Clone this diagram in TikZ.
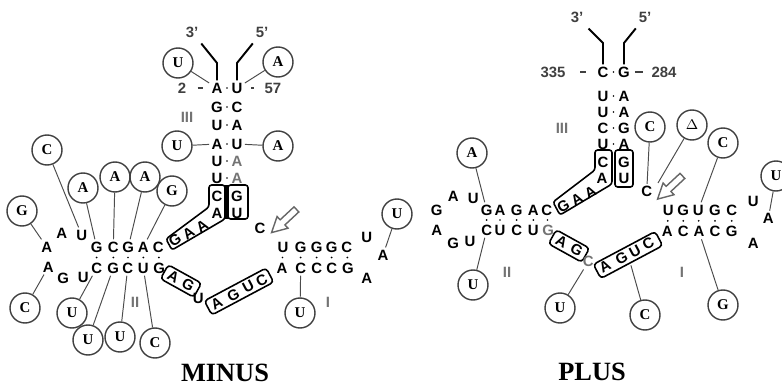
\documentclass[tikz,border=0pt]{standalone}
\usepackage{fontspec}
\setmainfont{Liberation Serif}
\setsansfont{Liberation Sans}
\usetikzlibrary{shapes.geometric, calc, positioning}
\tikzstyle{base} = [font=\sffamily\bfseries\fontsize{8.5}{9}\selectfont, inner sep=1.2pt]
\tikzstyle{greybase} = [base, text=black!55]
\tikzstyle{tilted} = [base, inner sep=0pt]
\tikzstyle{stemname} = [font=\sffamily\bfseries\fontsize{8.5}{9}\selectfont, text=black!55]
\tikzstyle{endname} = [font=\sffamily\bfseries\fontsize{8.5}{9}\selectfont, text=black!75]
\tikzstyle{circ} = [circle, draw=black!75, line width=0.8pt, minimum size=0.6cm, inner sep=0pt, font=\rmfamily\bfseries\fontsize{8.5}{9}\selectfont]
\tikzstyle{link} = [draw=black!70, line width=0.55pt]
\tikzstyle{tick} = [draw=black!75, line width=1.1pt]
\tikzstyle{strand} = [draw=black, line width=1.1pt]
\tikzstyle{boxline} = [draw=black, line width=0.9pt, rounded corners=1.5pt]
\tikzstyle{tag} = [draw=black, line width=0.9pt, rounded corners=2pt, minimum height=0.32cm, inner sep=0pt]
\tikzstyle{hollowarrow} = [draw=black!60, line width=0.8pt, line join=miter]
\tikzstyle{title} = [font=\rmfamily\bfseries\fontsize{15}{17}\selectfont]
\newcommand{\pairdot}[2]{\fill ($(#1)!0.5!(#2)$) circle (0.55pt);}
\newcommand{\openarrow}[1]{\draw [hollowarrow, shift={(#1)}, rotate=223] (-17,-3.5) -- (2,-3.5) -- (2,-8) -- (17,0) -- (2,8) -- (2,3.5) -- (-17,3.5) -- cycle;}

\begin{document}
\begin{tikzpicture}[x=0.02cm, y=-0.02cm]
    \useasboundingbox (0,0) rectangle (782,385);

    % ---------------- MINUS ----------------
    % stem III
    \node (m3p) [endname] at (192,32) {3'};
    \node (m5p) [endname] at (262,32) {5'};
    \node (mn2) [endname] at (182,88) {2};
    \node (mn57) [endname] at (273,88) {57};
    \node (ml1) [base] at (217,88) {A};  \node (mr1) [base] at (237,88) {U};
    \node (ml2) [base] at (217,107) {G}; \node (mr2) [base] at (237,107) {C};
    \node (ml3) [base] at (217,125) {U}; \node (mr3) [base] at (237,125) {A};
    \node (ml4) [base] at (217,144) {A}; \node (mr4) [base] at (237,144) {U};
    \node (ml5) [base] at (217,161) {U}; \node (mr5) [greybase] at (237,161) {A};
    \node (ml6) [base] at (217,178) {U}; \node (mr6) [greybase] at (237,178) {A};
    \node (ml7) [base] at (217,196) {C}; \node (mr7) [base] at (237,196) {G};
    \node (ml8) [base] at (217,213) {A}; \node (mr8) [base] at (237,213) {U};
    \node (m3name) [stemname] at (187,117) {III};
    \coordinate (m3k) at (217,63);
    \coordinate (m5k) at (237,63);
    \draw [strand] (m3p) -- (m3k) -- (ml1);
    \draw [strand] (m5p) -- (m5k) -- (mr1);
    \draw [tick, shorten <=3pt, shorten >=3.5pt] (mn2) -- (ml1);
    \draw [tick, shorten <=3.5pt, shorten >=2.5pt] (mr1) -- (mn57);
    \pairdot{ml1}{mr1} \pairdot{ml2}{mr2} \pairdot{ml3}{mr3}
    \pairdot{ml4}{mr4} \pairdot{ml5}{mr5} \pairdot{ml6}{mr6}

    % boxed C-A band and G-U box
    \node (mg1) [tilted, rotate=33] at (175,240) {G};
    \node (mg2) [tilted, rotate=33] at (188.5,233) {A};
    \node (mg3) [tilted, rotate=33] at (202,226) {A};
    \draw [boxline] (209,185) -- (225,185) -- (225,219) -- (172,250) -- (166,239) -- (209,207) -- cycle;
    \draw [boxline] (228,185) rectangle (248,219);
    \fill (224.5,185) rectangle (229,219);

    \node (mc) [base] at (260,228) {C};
    \coordinate (marr) at (284,221);
    \openarrow{marr}

    % stem I
    \node (mIt1) [base] at (283,247) {U};   \node (mIb1) [base] at (282,268) {A};
    \node (mIt2) [base] at (300.7,247) {G}; \node (mIb2) [base] at (300.7,268) {C};
    \node (mIt3) [base] at (316.7,247) {G}; \node (mIb3) [base] at (316.7,268) {C};
    \node (mIt4) [base] at (331.7,247) {G}; \node (mIb4) [base] at (331.7,268) {C};
    \node (mIt5) [base] at (346.7,247) {C}; \node (mIb5) [base] at (348,268) {G};
    \node (mIl1) [base] at (366.7,237) {U};
    \node (mIl2) [base] at (383,255) {A};
    \node (mIl3) [base] at (366.7,278) {A};
    \node (m1name) [stemname] at (328,302) {I};
    \pairdot{mIt1}{mIb1} \pairdot{mIt2}{mIb2} \pairdot{mIt3}{mIb3}
    \pairdot{mIt4}{mIb4} \pairdot{mIt5}{mIb5}

    % stem II
    \node (mIIt1) [base] at (96.7,247) {G};  \node (mIIb1) [base] at (96.7,268) {C};
    \node (mIIt2) [base] at (113.3,247) {C}; \node (mIIb2) [base] at (113.3,268) {G};
    \node (mIIt3) [base] at (128.3,247) {G}; \node (mIIb3) [base] at (127.7,268) {C};
    \node (mIIt4) [base] at (143.3,247) {A}; \node (mIIb4) [base] at (143.3,268) {U};
    \node (mIIt5) [base] at (158.3,247) {C}; \node (mIIb5) [base] at (159.3,268) {G};
    \node (mIIl1) [base] at (81.7,235) {U};
    \node (mIIl2) [base] at (61.7,233) {A};
    \node (mIIl3) [base] at (46.7,247) {A};
    \node (mIIl4) [base] at (48.3,267) {A};
    \node (mIIl5) [base] at (63.3,278) {G};
    \node (mIIl6) [base] at (83.3,277) {U};
    \node (m2name) [stemname] at (135,302) {II};
    \pairdot{mIIt1}{mIIb1} \pairdot{mIIt2}{mIIb2} \pairdot{mIIt3}{mIIb3}
    \pairdot{mIIt4}{mIIb4} \pairdot{mIIt5}{mIIb5}

    % lower strand with boxes
    \node (mbox1) [tag, rotate=-29, minimum width=0.76cm] at (181,281) {};
    \node (ma1) [tilted, rotate=-29] at (173.3,276.7) {A};
    \node (ma2) [tilted, rotate=-29] at (188.3,285) {G};
    \node (mu) [base] at (198.3,298.3) {U};
    \node (mbox2) [tag, rotate=28, minimum width=1.4cm] at (239,291.5) {};
    \node (mb1) [tilted, rotate=28] at (216.7,303.3) {A};
    \node (mb2) [tilted, rotate=28] at (233.3,295) {G};
    \node (mb3) [tilted, rotate=28] at (248.3,286.7) {U};
    \node (mb4) [tilted, rotate=28] at (261.7,280) {C};

    % circled variants
    \node (mcU1) [circ] at (178,63) {U};
    \node (mcA1) [circ] at (278,62) {A};
    \node (mcU2) [circ] at (177,146) {U};
    \node (mcA2) [circ] at (278,146) {A};
    \node (mcC1) [circ] at (47,150) {C};
    \node (mcG1) [circ] at (22,211) {G};
    \node (mcA3) [circ] at (83,188) {A};
    \node (mcA4) [circ] at (115,177) {A};
    \node (mcA5) [circ] at (145,177) {A};
    \node (mcG2) [circ] at (172,191) {G};
    \node (mcC2) [circ] at (25,308) {C};
    \node (mcU3) [circ] at (72,313) {U};
    \node (mcU4) [circ] at (88,340) {U};
    \node (mcU5) [circ] at (120,337) {U};
    \node (mcC3) [circ] at (155,343) {C};
    \node (mcU6) [circ] at (300,313) {U};
    \node (mcU7) [circ] at (397,214) {U};
    \draw [link] (mcU1) -- (ml1);
    \draw [link] (mcA1) -- (mr1);
    \draw [link] (mcU2) -- (ml4);
    \draw [link] (mcA2) -- (mr4);
    \draw [link] (mcC1) -- (mIIl1);
    \draw [link] (mcG1) -- (mIIl3);
    \draw [link] (mcA3) -- (mIIt1);
    \draw [link] (mcA4) -- (mIIt2);
    \draw [link] (mcA5) -- (mIIt3);
    \draw [link] (mcG2) -- (mIIt4);
    \draw [link] (mcC2) -- (mIIl4);
    \draw [link] (mcU3) -- (mIIb1);
    \draw [link] (mcU4) -- (mIIb2);
    \draw [link] (mcU5) -- (mIIb3);
    \draw [link] (mcC3) -- (mIIb4);
    \draw [link] (mcU6) -- (mIb2);
    \draw [link] (mcU7) -- (mIl2);

    \node (minus) [title] at (225,373) {MINUS};

    % ---------------- PLUS ----------------
    % stem III
    \node (p3p) [endname] at (577,17) {3'};
    \node (p5p) [endname] at (645,17) {5'};
    \node (pn335) [endname] at (553,72) {335};
    \node (pn284) [endname] at (664,72) {284};
    \node (pl1) [base] at (603,72) {C};  \node (pr1) [base] at (624,72) {G};
    \node (pl2) [base] at (603,96) {U};  \node (pr2) [base] at (624,96) {A};
    \node (pl3) [base] at (603,112) {U}; \node (pr3) [base] at (624,112) {A};
    \node (pl4) [base] at (603,128) {C}; \node (pr4) [base] at (624,128) {G};
    \node (pl5) [base] at (603,144) {U}; \node (pr5) [base] at (624,144) {A};
    \node (pl6) [base] at (603,162) {C}; \node (pr6) [base] at (624,162) {G};
    \node (pl7) [base] at (602,178) {A}; \node (pr7) [base] at (624,178) {U};
    \node (p3name) [stemname] at (562,128) {III};
    \coordinate (p3k) at (603,43);
    \coordinate (p5k) at (624,43);
    \draw [strand] (p3p) -- (p3k) -- (pl1);
    \draw [strand] (p5p) -- (p5k) -- (pr1);
    \draw [tick, shorten <=5pt, shorten >=5pt] (pn335) -- (pl1);
    \draw [tick, shorten <=1.5pt, shorten >=1.2pt] (pr1) -- (pn284);
    \pairdot{pl1}{pr1} \pairdot{pl2}{pr2} \pairdot{pl3}{pr3}
    \pairdot{pl4}{pr4} \pairdot{pl5}{pr5}

    % boxed C-A band and G-U box
    \node (pg1) [tilted, rotate=30] at (563.3,206) {G};
    \node (pg2) [tilted, rotate=30] at (577,199) {A};
    \node (pg3) [tilted, rotate=30] at (590.5,192) {A};
    \draw [boxline] (595,150) -- (612,150) -- (612,184) -- (560,215) -- (553,202) -- (595,170) -- cycle;
    \draw [boxline] (615,150) rectangle (633,187);

    \node (pcc) [base] at (646.7,191.7) {C};
    \coordinate (parr) at (670,187.5);
    \openarrow{parr}
    \coordinate (pdel) at (658,183);

    % stem I
    \node (pIt1) [base] at (668.3,210) {U}; \node (pIb1) [base] at (667.3,231.7) {A};
    \node (pIt2) [base] at (683.3,210) {G}; \node (pIb2) [base] at (683.3,231.7) {C};
    \node (pIt3) [base] at (698.3,210) {U}; \node (pIb3) [base] at (699,231.7) {A};
    \node (pIt4) [base] at (715,210) {G};   \node (pIb4) [base] at (715,231.7) {C};
    \node (pIt5) [base] at (731.7,210) {C}; \node (pIb5) [base] at (731.7,231.7) {G};
    \node (pIl1) [base] at (753.3,201.7) {U};
    \node (pIl2) [base] at (768.3,218.3) {A};
    \node (pIl3) [base] at (753.3,243.3) {A};
    \node (p1name) [stemname] at (682,272) {I};
    \pairdot{pIt1}{pIb1} \pairdot{pIt2}{pIb2} \pairdot{pIt3}{pIb3}
    \pairdot{pIt4}{pIb4} \pairdot{pIt5}{pIb5}

    % stem II
    \node (pIIt1) [base] at (486.7,210) {G}; \node (pIIb1) [base] at (486.7,230) {C};
    \node (pIIt2) [base] at (500,210) {A};   \node (pIIb2) [base] at (500,230) {U};
    \node (pIIt3) [base] at (516.7,210) {G}; \node (pIIb3) [base] at (516.7,230) {C};
    \node (pIIt4) [base] at (533.3,210) {A}; \node (pIIb4) [base] at (533.3,230) {U};
    \node (pIIt5) [base] at (546.7,210) {C}; \node (pIIb5) [greybase] at (548.3,230) {G};
    \node (pIIl1) [base] at (473.3,198.3) {U};
    \node (pIIl2) [base] at (453.3,196.7) {A};
    \node (pIIl3) [base] at (436.7,210) {G};
    \node (pIIl4) [base] at (436.7,230) {A};
    \node (pIIl5) [base] at (453.3,243.3) {G};
    \node (pIIl6) [base] at (470,241.7) {U};
    \node (p2name) [stemname] at (507,272) {II};
    \pairdot{pIIt1}{pIIb1} \pairdot{pIIt2}{pIIb2} \pairdot{pIIt3}{pIIb3}
    \pairdot{pIIt4}{pIIb4} \pairdot{pIIt5}{pIIb5}

    % lower strand with boxes
    \node (pbox1) [tag, rotate=-29, minimum width=0.76cm] at (569,246) {};
    \node (pa1) [tilted, rotate=-29] at (561.7,241.7) {A};
    \node (pa2) [tilted, rotate=-29] at (576.7,250) {G};
    \node (pgc) [greybase] at (588.3,261.7) {C};
    \node (pbox2) [tag, rotate=28, minimum width=1.4cm] at (628,255) {};
    \node (pb1) [tilted, rotate=28] at (605,266.7) {A};
    \node (pb2) [tilted, rotate=28] at (621.7,258.3) {G};
    \node (pb3) [tilted, rotate=28] at (635,251.7) {U};
    \node (pb4) [tilted, rotate=28] at (648.3,243.3) {C};

    % circled variants
    \node (pcA1) [circ] at (472,153) {A};
    \node (pcU1) [circ] at (473,285) {U};
    \node (pcU2) [circ] at (560,308) {U};
    \node (pcC1) [circ] at (645,315) {C};
    \node (pcC2) [circ] at (650,127) {C};
    \node (pcD) [circ] at (692,125) {$\Delta$};
    \node (pcC3) [circ] at (723,143) {C};
    \node (pcU3) [circ] at (776,176) {U};
    \node (pcG1) [circ] at (723,305) {G};
    \draw [link] (pcA1) -- (pIIt1);
    \draw [link] (pcU1) -- (pIIb1);
    \draw [link] (pcU2) -- (pgc);
    \draw [link, shorten >=1pt] (pcC1) -- (pbox2);
    \draw [link] (pcC2) -- (pcc);
    \draw [link] (pcD) -- (pdel);
    \draw [link] (pcC3) -- (pIt3);
    \draw [link] (pcU3) -- (pIl2);
    \draw [link] (pcG1) -- (pIb3);

    \node (plus) [title] at (592,372) {PLUS};
\end{tikzpicture}
\end{document}
